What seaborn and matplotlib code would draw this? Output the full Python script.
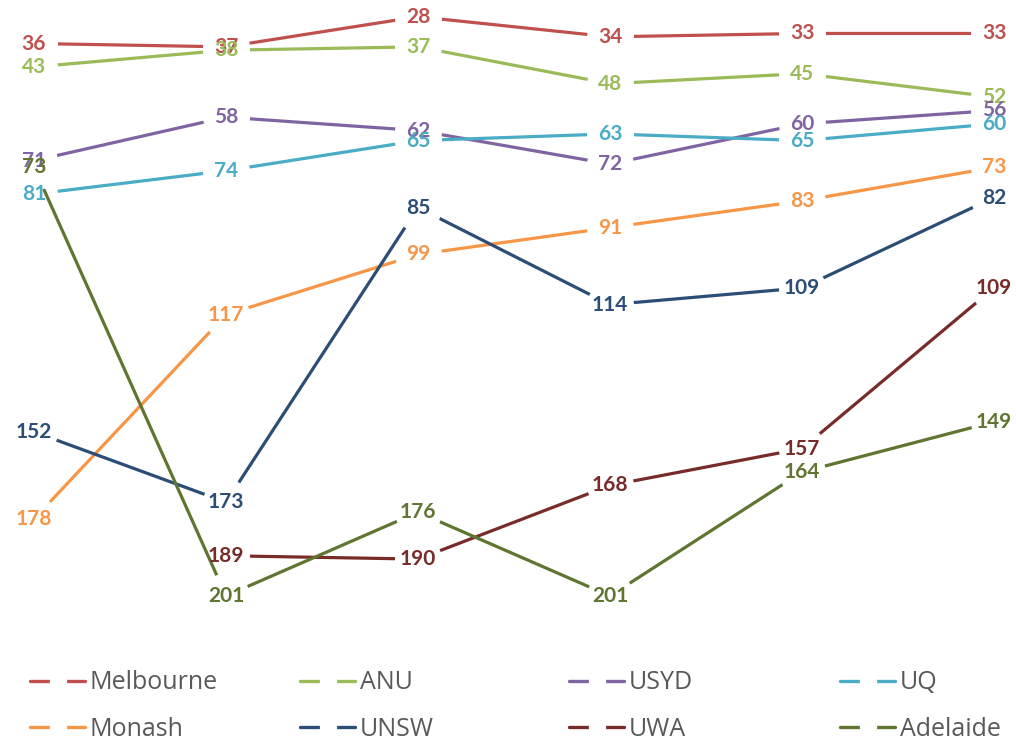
import numpy as np
import pandas as pd
import matplotlib
matplotlib.use("Agg")
import matplotlib.pyplot as plt
from matplotlib.lines import Line2D
import seaborn as sns

# 排名數據（數值越小越好，None = 無數據）
periods = [0, 1, 2, 3, 4, 5]
universities = ["Melbourne", "ANU", "USYD", "UQ", "Monash", "UNSW", "UWA", "Adelaide"]
melbourne = [36, 37, 28, 34, 33, 33]
anu = [43, 38, 37, 48, 45, 52]
usyd = [71, 58, 62, 72, 60, 56]
uq = [81, 74, 65, 63, 65, 60]
monash = [178, 117, 99, 91, 83, 73]
unsw = [152, 173, 85, 114, 109, 82]
uwa = [None, 189, 190, 168, 157, 109]
adelaide = [73, 201, 176, 201, 164, 149]
colors = ["#C0504D", "#9BBB59", "#8064A2", "#4BACC6",
          "#F79646", "#2C4D75", "#772C2A", "#5F7530"]

series = [melbourne, anu, usyd, uq, monash, unsw, uwa, adelaide]
rows = []
for name, vals in zip(universities, series):
    for p, v in zip(periods, vals):
        if v is not None:
            rows.append({"period": p, "rank": v, "uni": name})
df = pd.DataFrame(rows)

sns.set_style("white")
plt.rcParams["font.family"] = ["Lato", "DejaVu Sans"]

fig = plt.figure(figsize=(10.16, 7.41), dpi=100)
ax = fig.add_axes([0, 1 - 650 / 741, 1, 650 / 741])

# 每條線各自繪製，白色圓點在數據位置留出空隙
for name, col in zip(universities, colors):
    sub = df[df["uni"] == name]
    sns.lineplot(data=sub, x="period", y="rank", ax=ax, color=col,
                 linewidth=2.3, marker="o", markersize=33,
                 markerfacecolor="white", markeredgecolor="white",
                 errorbar=None, legend=False)

# 數據標籤畫在最上層
for name, col in zip(universities, colors):
    sub = df[df["uni"] == name]
    for _, r in sub.iterrows():
        ax.text(r["period"], r["rank"], str(int(r["rank"])), color=col,
                ha="center", va="center", fontsize=15, fontweight="bold",
                zorder=10)

ax.set_xlim(-34 / 192, 5 + 22 / 192)
ax.set_ylim(36 + 606.5 / 3.348, 36 - 43.5 / 3.348)
ax.axis("off")

# 圖例：四欄兩行，逐欄放置
handles = [Line2D([0], [0], color=c, lw=2.4, marker="o", markersize=11.5,
                  markerfacecolor="white", markeredgecolor="white")
           for c in colors]
col_x = [30, 300, 569, 840]
for i, x in enumerate(col_x):
    fig.legend([handles[i], handles[i + 4]],
               [universities[i], universities[i + 4]],
               loc="center left", bbox_to_anchor=(x / 1016, 1 - 706 / 741),
               frameon=False, borderpad=0, borderaxespad=0,
               handlelength=2.2, handletextpad=0.2, labelspacing=0.86,
               prop={"family": "Open Sans", "size": 18},
               labelcolor="#595959")

fig.savefig("out.png", dpi=100)
